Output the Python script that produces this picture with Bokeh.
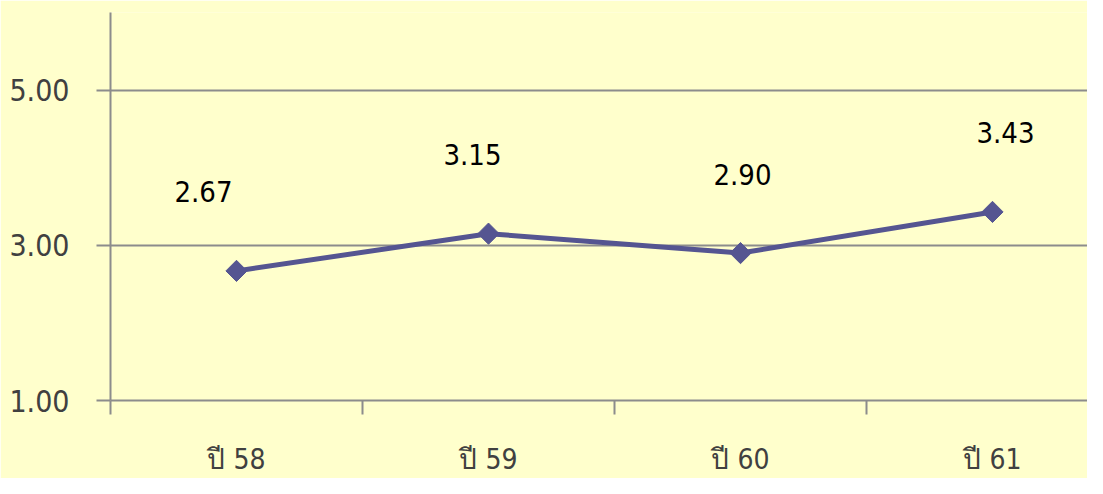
from bokeh.plotting import figure
from bokeh.models import FixedTicker, PrintfTickFormatter, Range1d, ColumnDataSource
from bokeh.core.properties import value
from bokeh.embed import file_html
from bokeh.resources import INLINE

# ---- data ----
categories = ["ปี 58", "ปี 59", "ปี 60", "ปี 61"]
scores = [2.67, 3.15, 2.90, 3.43]
score_labels = ["2.67", "3.15", "2.90", "3.43"]
y_ticks = [1, 3, 5]

# ---- style ----
label_nudge_px = [-33, -16, 2, 13]
BG = "#FFFFCC"
GRAY = "#8C8C8C"
LINE = "#555591"
FONT = "DejaVu Sans Condensed"

xs = [i + 0.5 for i in range(len(categories))]

p = figure(width=1087, height=478, output_backend="svg", toolbar_location=None,
           x_range=Range1d(0, 3.877), y_range=Range1d(1, 6),
           min_border_left=110, min_border_right=0, min_border_top=12,
           min_border_bottom=77)
p.background_fill_color = BG
p.border_fill_color = BG
p.outline_line_color = None

# y axis
p.yaxis.ticker = FixedTicker(ticks=y_ticks)
p.yaxis.formatter = PrintfTickFormatter(format="%.2f")
p.yaxis.axis_line_color = GRAY
p.yaxis.axis_line_width = 2
p.yaxis.major_tick_line_color = GRAY
p.yaxis.major_tick_line_width = 2
p.yaxis.major_tick_out = 14
p.yaxis.major_tick_in = 0
p.yaxis.minor_tick_line_color = None
p.yaxis.major_label_standoff = 27
p.yaxis.major_label_text_font = FONT
p.yaxis.major_label_text_font_size = "30px"
p.yaxis.major_label_text_color = "#404040"

# x axis: boundary ticks as minor ticks, category names at centres
p.xaxis.ticker = FixedTicker(ticks=xs, minor_ticks=list(range(len(categories))))
p.xaxis.major_label_overrides = {x: c for x, c in zip(xs, categories)}
p.xaxis.axis_line_color = GRAY
p.xaxis.axis_line_width = 2
p.xaxis.major_tick_line_color = None
p.xaxis.major_tick_out = 0
p.xaxis.major_tick_in = 0
p.xaxis.minor_tick_line_color = GRAY
p.xaxis.minor_tick_line_width = 2
p.xaxis.minor_tick_out = 14
p.xaxis.minor_tick_in = 0
p.xaxis.major_label_standoff = 28
p.xaxis.major_label_text_font = FONT
p.xaxis.major_label_text_font_size = "28px"
p.xaxis.major_label_text_color = "#404040"

# grid
p.xgrid.grid_line_color = None
p.ygrid.ticker = FixedTicker(ticks=y_ticks)
p.ygrid.grid_line_color = GRAY
p.ygrid.grid_line_width = 2

src = ColumnDataSource(dict(x=xs, y=scores, lab=score_labels, dx=label_nudge_px))
p.line("x", "y", source=src, line_color=LINE, line_width=5)
p.scatter("x", "y", source=src, marker="square", angle=0.785398, size=15,
          fill_color=LINE, line_color=LINE)
p.text("x", "y", text="lab", source=src, x_offset="dx", y_offset=-79,
       text_align="center", text_baseline="middle",
       text_font=value(FONT), text_font_size="29px", text_color="#000000")

open("out.html", "w").write(file_html(p, INLINE))
